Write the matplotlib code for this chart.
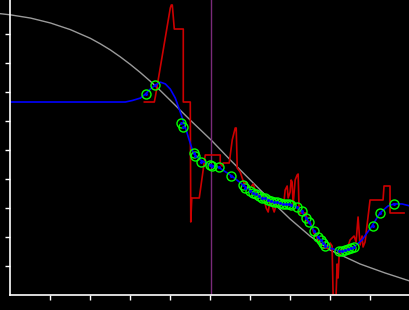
"""Fit vs. raw trace on a black panel: gray envelope, red step trace, blue
smoothed fit with green sample markers, and a purple cursor line.

    python plot.py
"""
from __future__ import annotations

import matplotlib

matplotlib.use("Agg")
import matplotlib.pyplot as plt

# gray envelope
ENV_X = [-0.25, 0.0, 0.5, 1.0, 1.5, 2.0, 2.25, 2.5, 2.75, 3.0, 3.25, 3.5,
         3.75, 4.075, 4.5, 5.025, 5.5, 6.0, 6.5, 7.0, 7.5, 8.0, 8.75, 9.375,
         10.0]
ENV_Y = [9.70, 9.66, 9.55, 9.38, 9.15, 8.85, 8.66, 8.45, 8.21, 7.95, 7.67,
         7.37, 7.05, 6.61, 6.03, 5.34, 4.66, 3.97, 3.28, 2.62, 2.03, 1.55,
         1.07, 0.76, 0.48]

# red raw trace
RAW_X = [3.35, 3.6, 3.625, 4.0, 4.025, 4.05, 4.1, 4.325, 4.325, 4.5, 4.5125,
         4.5375, 4.725, 4.875, 5.25, 5.25, 5.3, 5.325, 5.475, 5.55, 5.625,
         5.65, 5.675, 5.75, 5.8, 5.85, 5.9, 5.95, 6.0, 6.075, 6.125, 6.2,
         6.25, 6.3, 6.35, 6.4, 6.45, 6.5, 6.55, 6.6, 6.65, 6.7, 6.75, 6.8,
         6.85, 6.875, 6.925, 6.95, 7.0, 7.025, 7.05, 7.075, 7.125, 7.175,
         7.2, 7.225, 7.4, 7.425, 7.5, 7.55, 7.6, 7.65, 7.7, 7.75, 7.8, 7.95,
         8.0, 8.05, 8.075, 8.15, 8.175, 8.2, 8.225, 8.275, 8.375, 8.45, 8.5,
         8.55, 8.6, 8.65, 8.7, 8.75, 8.8, 8.825, 8.875, 9.0, 9.325, 9.35,
         9.5, 9.5, 9.85]
RAW_Y = [6.655, 6.655, 6.828, 9.897, 10.0, 10.0, 9.172, 9.172, 6.655, 6.655,
         2.517, 3.345, 3.345, 4.828, 4.828, 4.517, 4.448, 4.552, 4.552, 5.345,
         5.759, 5.759, 4.379, 4.241, 4.034, 3.828, 3.897, 3.759, 3.69, 3.828,
         3.621, 3.517, 3.379, 3.448, 3.276, 3.0, 2.862, 3.276, 3.069, 2.862,
         3.103, 3.276, 3.103, 3.207, 3.276, 3.621, 3.759, 3.345, 3.552, 3.966,
         3.897, 3.103, 3.966, 4.138, 4.172, 2.828, 2.828, 2.517, 2.517, 2.31,
         2.103, 2.034, 1.897, 1.724, 1.621, 1.621, 1.793, 1.69, 0.0, 0.0,
         1.069, 0.586, 1.345, 1.586, 1.552, 1.69, 1.897, 1.966, 2.034, 1.828,
         2.69, 1.724, 2.034, 1.655, 1.828, 3.276, 3.276, 3.759, 3.759, 2.828,
         2.828]

# blue smoothed fit
FIT_X = [0.0, 2.875, 3.05, 3.25, 3.375, 3.5, 3.625, 3.75, 3.875, 4.0, 4.125,
         4.25, 4.35, 4.45, 4.575, 4.75, 4.975, 5.2, 5.525, 5.825, 6.0, 6.25,
         6.625, 7.0, 7.15, 7.275, 7.4, 7.5, 7.6, 7.7, 7.825, 8.0, 8.225,
         8.425, 8.625, 8.8, 9.05, 9.25, 9.45, 9.6, 9.8, 10.0]
FIT_Y = [6.655, 6.655, 6.707, 6.79, 6.93, 7.1, 7.24, 7.34, 7.28, 7.1, 6.79,
         6.31, 5.9, 5.45, 4.9, 4.66, 4.5, 4.41, 4.12, 3.79, 3.62, 3.38, 3.21,
         3.1, 3.03, 2.9, 2.66, 2.45, 2.21, 2.0, 1.79, 1.62, 1.52, 1.55, 1.69,
         1.9, 2.38, 2.83, 3.07, 3.14, 3.14, 3.07]

# green samples
PTS_X = [3.383, 3.618, 4.275, 4.308, 4.583, 4.625, 4.775, 4.983, 5.043, 5.208,
         5.525, 5.818, 5.875, 6.0, 6.075, 6.15, 6.225, 6.3, 6.375, 6.45,
         6.525, 6.6, 6.675, 6.75, 6.825, 6.9, 6.963, 7.025, 7.168, 7.293, 7.4,
         7.483, 7.608, 7.708, 7.768, 7.818, 7.875, 8.233, 8.3, 8.375, 8.45,
         8.525, 8.6, 9.068, 9.258, 9.608]
PTS_Y = [6.921, 7.231, 5.931, 5.783, 4.886, 4.793, 4.576, 4.483, 4.448, 4.403,
         4.114, 3.793, 3.679, 3.597, 3.534, 3.466, 3.414, 3.362, 3.328, 3.293,
         3.252, 3.217, 3.19, 3.166, 3.155, 3.138, 3.121, 3.103, 3.024, 2.897,
         2.645, 2.507, 2.207, 2.01, 1.897, 1.803, 1.7, 1.517, 1.534, 1.552,
         1.586, 1.621, 1.672, 2.39, 2.817, 3.138]

CURSOR_X = 5.03
X_TICKS = [1, 2, 3, 4, 5, 6, 7, 8, 9]
Y_TICKS = [1, 2, 3, 4, 5, 6, 7, 8, 9]


def main() -> None:
    fig = plt.figure(figsize=(4.1, 3.1), dpi=100, facecolor="black")
    ax = fig.add_axes([10.5 / 410, 15 / 310, 399.5 / 410, 295 / 310])
    ax.set_facecolor("black")

    ax.plot(ENV_X, ENV_Y, color="#9a9a9a", lw=1.0, clip_on=False)
    ax.axvline(CURSOR_X, color="#7a2a7a", lw=1.0)
    ax.plot(RAW_X, RAW_Y, color="#cc0000", lw=1.2)
    ax.plot(FIT_X, FIT_Y, color="#0000ff", lw=1.2)
    ax.plot(PTS_X, PTS_Y, ls="none", marker="o", ms=6.5, mfc="none",
            mec="#00ff00", mew=1.0)
    ax.plot(PTS_X, PTS_Y, ls="none", marker="o", ms=1.2, color="#0000ff")

    ax.set_xlim(0, 10)
    ax.set_ylim(0, 295 / 29)
    ax.set_xticks(X_TICKS)
    ax.set_yticks(Y_TICKS)
    ax.set_xticklabels([])
    ax.set_yticklabels([])
    ax.tick_params(colors="white", length=3.5, width=1.0, direction="out")
    for side in ("top", "right"):
        ax.spines[side].set_visible(False)
    for side in ("left", "bottom"):
        ax.spines[side].set_color("white")
        ax.spines[side].set_linewidth(1.2)

    fig.savefig("out.png", dpi=100, facecolor="black")
    plt.close(fig)


if __name__ == "__main__":
    main()
